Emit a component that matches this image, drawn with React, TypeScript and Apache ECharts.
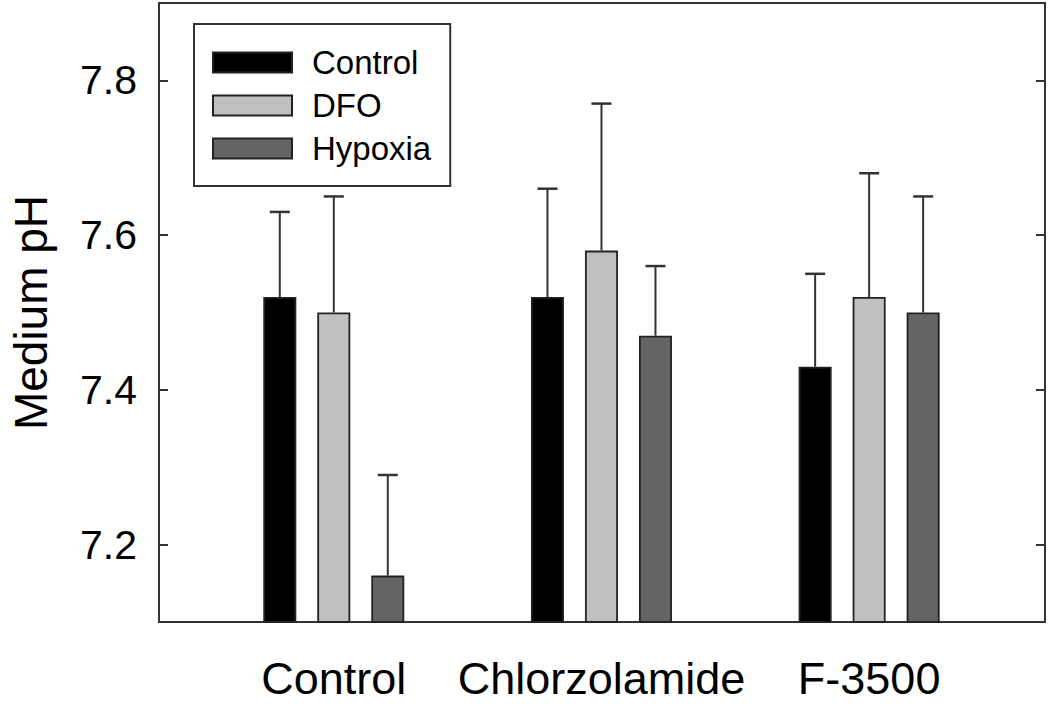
import React, { useEffect, useRef } from "react";
import * as echarts from "echarts";

const categories = ["Control", "Chlorzolamide", "F-3500"];
const seriesNames = ["Control", "DFO", "Hypoxia"];
const controlMean = [7.52, 7.52, 7.43];
const controlUpper = [7.63, 7.66, 7.55];
const dfoMean = [7.5, 7.58, 7.52];
const dfoUpper = [7.65, 7.77, 7.68];
const hypoxiaMean = [7.16, 7.47, 7.5];
const hypoxiaUpper = [7.29, 7.56, 7.65];
const yTicks = [7.2, 7.4, 7.6, 7.8];
const yMin = 7.1;
const yMax = 7.9;

const means = [controlMean, dfoMean, hypoxiaMean];
const uppers = [controlUpper, dfoUpper, hypoxiaUpper];
const colors = ["#000000", "#c0c0c0", "#646464"];

const FONT = "'Liberation Sans', Arial, sans-serif";
const BAR_W = 33;
const BAR_GAP_PX = 21;

export default function App() {
  const ref = useRef<HTMLDivElement>(null);
  useEffect(() => {
    document.body.style.margin = "0";
    if (!ref.current) return;
    const chart = echarts.init(ref.current, null, { renderer: "svg" });
    const barSeries = seriesNames.map((name, s) => ({
      name,
      type: "bar",
      barWidth: BAR_W,
      barGap: `${(BAR_GAP_PX / BAR_W) * 100}%`,
      itemStyle: { color: colors[s], borderColor: "#222", borderWidth: 1.8 },
      data: means[s].map((v, i) => [i + 1, v]),
      z: 2,
    }));
    const errSeries = seriesNames.map((name, s) => {
      const offset = (s - 1) * (BAR_W + BAR_GAP_PX);
      return {
        name: "err-" + name,
        type: "custom",
        z: 3,
        encode: { x: 0, y: [1, 2] },
        data: means[s].map((v, i) => [i + 1, v, uppers[s][i]]),
        renderItem: (params: any, api: any) => {
          const x = api.value(0);
          const pm = api.coord([x, api.value(1)]);
          const pu = api.coord([x, api.value(2)]);
          const cx = pm[0] + offset;
          return {
            type: "group",
            children: [
              {
                type: "line",
                shape: { x1: cx, y1: pm[1], x2: cx, y2: pu[1] },
                style: { stroke: "#333", lineWidth: 2 },
              },
              {
                type: "line",
                shape: { x1: cx - 10, y1: pu[1], x2: cx + 10, y2: pu[1] },
                style: { stroke: "#333", lineWidth: 2.5 },
              },
            ],
          };
        },
      };
    });
    const option: any = {
      animation: false,
      backgroundColor: "#ffffff",
      textStyle: { fontFamily: FONT },
      grid: {
        left: 158,
        right: 5,
        top: 3,
        bottom: 82,
        show: true,
        borderColor: "#333",
        borderWidth: 2,
      },
      legend: {
        data: seriesNames,
        orient: "vertical",
        left: 194,
        top: 24,
        padding: [22, 19, 21, 18],
        itemWidth: 79,
        itemHeight: 20,
        itemGap: 10,
        icon: "rect",
        borderColor: "#333",
        borderWidth: 2,
        textStyle: {
          fontFamily: FONT,
          fontSize: 33,
          lineHeight: 32,
          color: "#000",
          padding: [0, 0, 0, 15],
        },
      },
      xAxis: {
        type: "value",
        min: 0.347,
        max: 3.657,
        axisLine: { show: false },
        axisTick: { show: false },
        splitLine: { show: false },
        axisLabel: {
          customValues: [1, 2, 3],
          formatter: (v: number) => categories[Math.round(v) - 1] ?? "",
          fontFamily: FONT,
          fontSize: 45,
          color: "#000",
          margin: 34,
        },
      },
      yAxis: [
        {
          type: "value",
          min: yMin,
          max: yMax,
          name: "Medium pH",
          nameLocation: "middle",
          nameGap: 105,
          nameTextStyle: { fontFamily: FONT, fontSize: 46, color: "#000" },
          axisLine: { show: false },
          axisTick: {
            show: true,
            inside: true,
            length: 9,
            customValues: yTicks,
            lineStyle: { color: "#333", width: 2 },
          },
          axisLabel: {
            customValues: yTicks,
            formatter: (v: number) => v.toFixed(1),
            fontFamily: FONT,
            fontSize: 41,
            color: "#000",
            margin: 22,
          },
          splitLine: { show: false },
        },
        {
          type: "value",
          position: "right",
          min: yMin,
          max: yMax,
          axisLine: { show: false },
          axisTick: {
            show: true,
            inside: true,
            length: 9,
            customValues: yTicks,
            lineStyle: { color: "#333", width: 2 },
          },
          axisLabel: { show: false },
          splitLine: { show: false },
        },
      ],
      series: [...barSeries, ...errSeries],
    };
    chart.setOption(option);
    return () => chart.dispose();
  }, []);
  return <div ref={ref} style={{ width: 1050, height: 704 }} />;
}
